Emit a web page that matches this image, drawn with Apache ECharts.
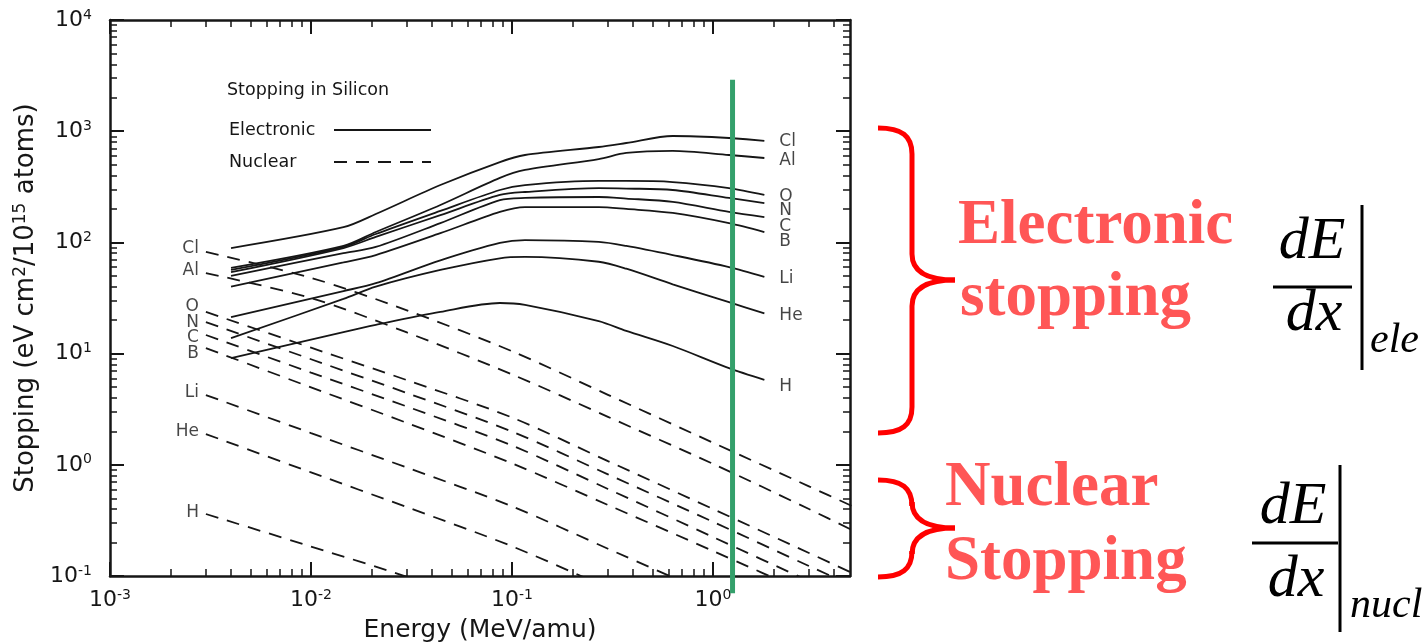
<!DOCTYPE html>
<html>
<head>
<meta charset="utf-8">
<title>Stopping in Silicon</title>
<script src="https://cdn.jsdelivr.net/npm/echarts@6/dist/echarts.min.js"></script>
<style>
  html, body { margin: 0; padding: 0; background: #fff; }
  #main { width: 1422px; height: 644px; }
</style>
</head>
<body>
<div id="main"></div>
<script>
const ions = ['Cl', 'Al', 'O', 'N', 'C', 'B', 'Li', 'He', 'H'];

// electronic stopping (eV cm2/1e15 atoms) vs energy (MeV/amu)
const elecEnergy = [0.004, 0.0145, 0.021, 0.044, 0.087, 0.116, 0.27, 0.37, 0.63, 1.2, 1.8];
const elecCl = [89, 137, 180, 328, 528, 611, 721, 783, 905, 869, 817];
const elecAl = [59, 93, 124, 217, 380, 448, 562, 637, 664, 611, 574];
const elecO  = [56.5, 91, 119, 192, 296, 328, 357, 357, 349, 308, 267];
const elecN  = [54, 89, 112, 176, 267, 284, 308, 305, 296, 251, 226];
const elecC  = [50, 80, 91, 149, 240, 251, 256, 248, 231, 188, 169];
const elecB  = [40, 66, 77, 121, 188, 208, 208, 200, 184, 149, 124];
const elecLi = [21.3, 36.5, 43, 69, 99, 105, 101, 93, 77, 60, 49];
const elecHe = [13.8, 31, 40, 56.5, 72, 74, 67, 58, 42, 29, 23];
const elecH  = [9.1, 15.6, 18.1, 23.7, 28.5, 27.4, 19.6, 16, 11.7, 7.4, 5.8];

// nuclear stopping
const nucEnergy = [0.003, 0.01, 0.03, 0.1, 0.3, 1, 3, 5];
const nucCl = [82, 48, 24.5, 10.5, 4.26, 1.58, 0.64, 0.42];
const nucAl = [53, 31.6, 15.5, 6.5, 2.7, 1.02, 0.40, 0.255];
const nucO  = [23.7, 11.3, 5.77, 2.66, 1.08, 0.40, 0.161, 0.105];
const nucN  = [19.2, 8.9, 4.42, 1.99, 0.82, 0.307, 0.123, 0.081];
const nucC  = [14.7, 6.75, 3.34, 1.49, 0.606, 0.224, 0.09, 0.059];
const nucB  = [11.2, 4.97, 2.38, 1.03, 0.435, 0.168, 0.069, 0.045];
const nucLi = [4.24, 1.93, 0.944, 0.423, 0.176, 0.067];
const nucHe = [1.89, 0.855, 0.416, 0.185, 0.078];
const nucH  = [0.361, 0.184, 0.098, 0.043];

const xTicks = [0.001, 0.01, 0.1, 1];
const yTicks = [0.1, 1, 10, 100, 1000, 10000];
const xMin = 0.001, xMax = 4.8;
const yMin = 0.1, yMax = 10000;

// green marker at ~1.25 MeV/amu
const markerEnergy = 1.25;
const markerSpan = [2900, 0.07];

const elecData = { Cl: elecCl, Al: elecAl, O: elecO, N: elecN, C: elecC, B: elecB, Li: elecLi, He: elecHe, H: elecH };
const nucData = { Cl: nucCl, Al: nucAl, O: nucO, N: nucN, C: nucC, B: nucB, Li: nucLi, He: nucHe, H: nucH };

// label nudges (px)
const leftLabelDy = { Cl: -3, Al: -2, O: -5, N: 0, C: 3, B: 5, Li: -2, He: -2, H: -1 };
const rightLabelDy = { Cl: 1, Al: 3, O: 2, N: 8, C: 10, B: 10, Li: 2, He: 2, H: 7 };

const ink = '#161616';
const font = 'DejaVu Sans';
const red = '#ff5656';

function minorTicks(lo, hi) {
  const out = [];
  for (let d = lo; d < hi; d *= 10) {
    for (let k = 2; k <= 9; k++) {
      const v = +(d * k).toPrecision(3);
      if (v < hi) out.push(v);
    }
  }
  return out;
}
const xMinor = minorTicks(0.001, xMax);
const yMinor = minorTicks(0.1, yMax);

const tickRich = {
  b: { fontFamily: font, fontSize: 22, color: ink },
  s: { fontFamily: font, fontSize: 14, color: ink, padding: [0, 0, 10, 0] }
};
const powLabel = v => '{b|10}{s|' + Math.round(Math.log10(v)) + '}';

function logAxis(min, max, position, major, minor, extra) {
  const base = {
    type: 'log', logBase: 10, min: min, max: max, position: position,
    splitLine: { show: false },
    axisLine: { show: !minor, onZero: false, lineStyle: { color: ink, width: 2.5 } },
    axisTick: {
      show: true, inside: true, length: minor ? 7 : 14,
      customValues: minor || major,
      lineStyle: { color: ink, width: minor ? 1.5 : 2 }
    },
    axisLabel: { show: false }
  };
  return Object.assign(base, extra || {});
}

// curly brace made of bezier pieces
function brace(xEnd, xSpine, xTip, top, mid, bottom) {
  const st = { fill: 'none', stroke: '#ff0000', lineWidth: 5 };
  const r = 26;
  return [
    { type: 'bezierCurve', silent: true, shape: { x1: xEnd, y1: top, x2: xSpine, y2: top + r, cpx1: xEnd + 24, cpy1: top, cpx2: xSpine, cpy2: top + 8 }, style: st },
    { type: 'line', silent: true, shape: { x1: xSpine, y1: top + r, x2: xSpine, y2: mid - r }, style: st },
    { type: 'bezierCurve', silent: true, shape: { x1: xSpine, y1: mid - r, x2: xTip, y2: mid, cpx1: xSpine, cpy1: mid - 8, cpx2: xSpine + 16, cpy2: mid }, style: st },
    { type: 'bezierCurve', silent: true, shape: { x1: xTip, y1: mid, x2: xSpine, y2: mid + r, cpx1: xSpine + 16, cpy1: mid, cpx2: xSpine, cpy2: mid + 8 }, style: st },
    { type: 'line', silent: true, shape: { x1: xSpine, y1: mid + r, x2: xSpine, y2: bottom - r }, style: st },
    { type: 'bezierCurve', silent: true, shape: { x1: xSpine, y1: bottom - r, x2: xEnd, y2: bottom, cpx1: xSpine, cpy1: bottom - 8, cpx2: xEnd + 24, cpy2: bottom }, style: st }
  ];
}

const myChart = echarts.init(document.querySelector('#main'));

const series = [];
ions.forEach(ion => {
  series.push({
    name: 'Electronic', id: 'e-' + ion, type: 'line',
    data: elecEnergy.map((e, i) => [e, elecData[ion][i]]),
    symbol: 'none', smooth: 0.3, silent: true, z: 3, color: ink,
    lineStyle: { color: ink, width: 1.8 }
  });
  series.push({
    name: 'Nuclear', id: 'n-' + ion, type: 'line',
    data: nucData[ion].map((s, i) => [nucEnergy[i], s]),
    symbol: 'none', smooth: 0.3, silent: true, z: 3, color: ink,
    lineStyle: { color: ink, width: 1.8, type: [13, 9] }
  });
});

// element names at the start of nuclear curves and end of electronic curves
const elementLabel = { show: true, formatter: '{b}', fontFamily: font, fontSize: 17, color: ink };
series.push({
  type: 'scatter', id: 'left-labels', symbolSize: 0, silent: true, z: 5,
  data: ions.map(ion => ({
    name: ion, value: [nucEnergy[0], nucData[ion][0]],
    label: { offset: [0, leftLabelDy[ion]] }
  })),
  label: Object.assign({ position: 'left', distance: 7 }, elementLabel)
});
series.push({
  type: 'scatter', id: 'right-labels', symbolSize: 0, silent: true, z: 5,
  data: ions.map(ion => ({
    name: ion, value: [elecEnergy[elecEnergy.length - 1], elecData[ion][elecData[ion].length - 1]],
    label: { offset: [0, rightLabelDy[ion]] }
  })),
  label: Object.assign({ position: 'right', distance: 15 }, elementLabel)
});

series.push({
  type: 'line', id: 'marker', silent: true, clip: false, z: 10,
  data: [[markerEnergy, markerSpan[0]], [markerEnergy, markerSpan[1]]],
  symbol: 'none',
  lineStyle: { color: '#34a06b', width: 5 }
});

const mathText = (x, y, text, size, align) => ({
  type: 'text', silent: true, x: x, y: y,
  style: { text: text, font: 'italic ' + size + 'px "Liberation Serif"', fill: '#000', align: align || 'left', verticalAlign: 'middle' }
});
const redText = (x, y, text) => ({
  type: 'text', silent: true, x: x, y: y,
  style: { text: text, font: 'bold 63px "Liberation Serif"', fill: red, verticalAlign: 'middle' }
});
const bar = (x1, y1, x2, y2) => ({ type: 'line', silent: true, shape: { x1: x1, y1: y1, x2: x2, y2: y2 }, style: { stroke: '#000', lineWidth: 3 } });

let option = {
  backgroundColor: '#fff',
  animation: false,
  title: {
    text: 'Stopping in Silicon', left: 222, top: 76,
    textStyle: { fontFamily: font, fontSize: 17.5, fontWeight: 'normal', color: ink }
  },
  legend: {
    data: ['Electronic', 'Nuclear'], orient: 'vertical', left: 224, top: 116,
    align: 'right', itemWidth: 97, itemHeight: 14, itemGap: 14, selectedMode: false,
    itemStyle: { opacity: 0 },
    formatter: name => '{t|' + name + '}',
    textStyle: { rich: { t: { width: 100, align: 'left', fontFamily: font, fontSize: 17.5, color: ink } } }
  },
  grid: { left: 110, right: 572, top: 20, bottom: 68, containLabel: false, outerBoundsMode: 'none' },
  xAxis: [
    logAxis(xMin, xMax, 'bottom', xTicks, null, {
      axisLabel: { show: true, customValues: xTicks, margin: 12, formatter: powLabel, rich: tickRich },
      name: 'Energy (MeV/amu)', nameLocation: 'middle', nameGap: 42,
      nameTextStyle: { fontFamily: font, fontSize: 25, color: ink }
    }),
    logAxis(xMin, xMax, 'top', xTicks, null),
    logAxis(xMin, xMax, 'bottom', xTicks, xMinor),
    logAxis(xMin, xMax, 'top', xTicks, xMinor)
  ],
  yAxis: [
    logAxis(yMin, yMax, 'left', yTicks, null, {
      axisLabel: { show: true, customValues: yTicks, margin: 18, formatter: powLabel, rich: tickRich },
      name: '{t|Stopping (eV cm}{s|2}{t|/10}{s|15}{t| atoms)}',
      nameLocation: 'middle', nameRotate: 90, nameGap: 64,
      nameTextStyle: {
        rich: {
          t: { fontFamily: font, fontSize: 26, color: ink },
          s: { fontFamily: font, fontSize: 17, color: ink, padding: [0, 0, 12, 0] }
        }
      }
    }),
    logAxis(yMin, yMax, 'right', yTicks, null),
    logAxis(yMin, yMax, 'left', yTicks, yMinor),
    logAxis(yMin, yMax, 'right', yTicks, yMinor)
  ],
  series: series,
  graphic: [].concat(
    brace(878, 912, 955, 128, 280, 433),
    brace(878, 912, 955, 480, 528, 577),
    [
      redText(958, 227, 'Electronic'),
      redText(960, 299, 'stopping'),
      redText(945, 489, 'Nuclear'),
      redText(945, 563, 'Stopping'),

      mathText(1312, 242, 'dE', 60, 'center'),
      bar(1273, 287, 1352, 287),
      mathText(1314, 314, 'dx', 60, 'center'),
      bar(1362, 205, 1362, 370),
      mathText(1370, 341, 'ele', 42),

      mathText(1293, 507, 'dE', 60, 'center'),
      bar(1252, 543, 1338, 543),
      mathText(1296, 580, 'dx', 60, 'center'),
      bar(1340, 465, 1340, 632),
      mathText(1350, 606, 'nucl', 42)
    ]
  )
};

option && myChart.setOption(option);
</script>
</body>
</html>
